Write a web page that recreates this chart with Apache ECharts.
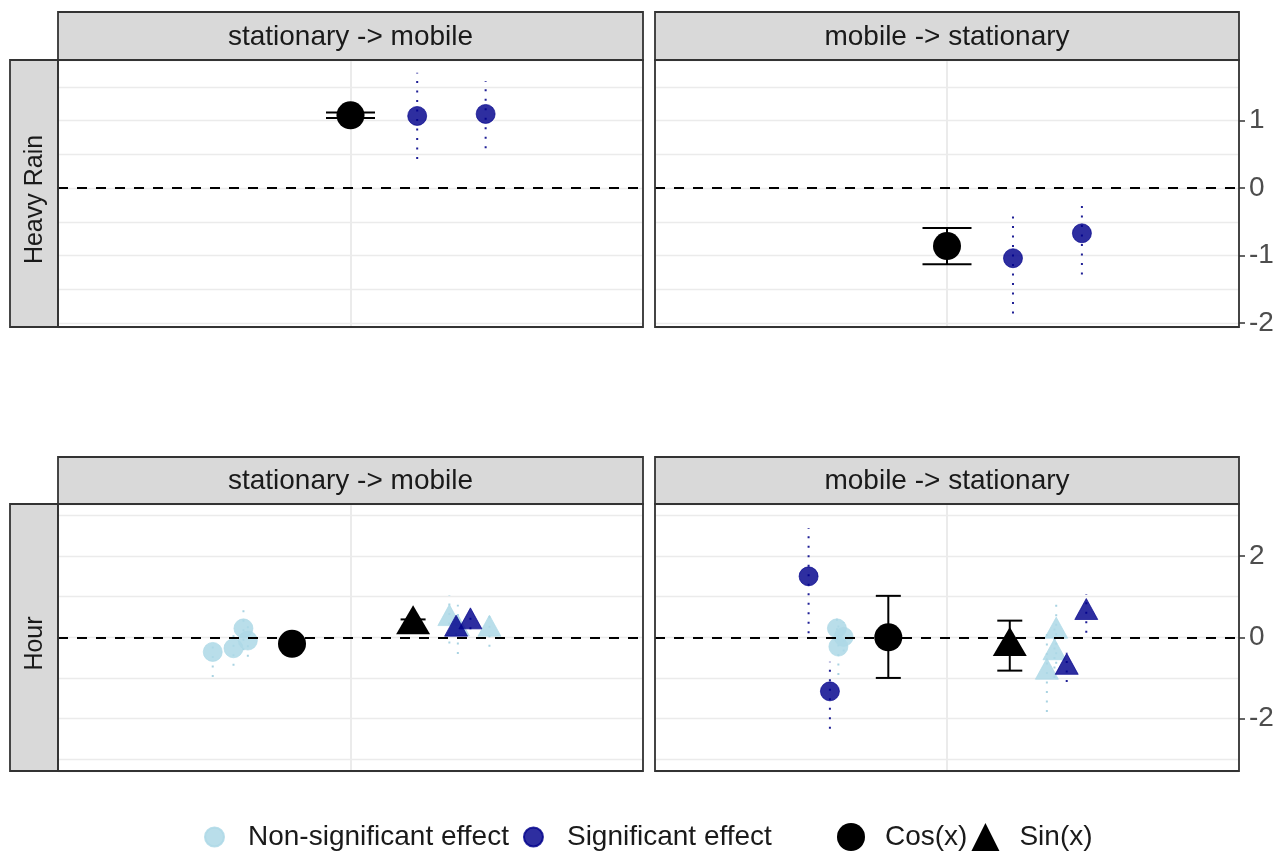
<!DOCTYPE html>
<html>
<head>
<meta charset="utf-8">
<script src="https://cdn.jsdelivr.net/npm/echarts@6/dist/echarts.min.js"></script>
<style>
  html, body { margin: 0; padding: 0; background: #ffffff; }
  #chart { width: 1282px; height: 855px; }
</style>
</head>
<body>
<div id="chart"></div>
<script>
// Facet labels
const columnLabels = ['stationary -> mobile', 'mobile -> stationary'];
const rowLabels = ['Heavy Rain', 'Hour'];

// Labelled ticks on the right-hand axis of each row
const rainTicks = [-2, -1, 0, 1];
const hourTicks = [-2, 0, 2];

// Rows: [dodge position, estimate, lower CI, upper CI, shape]
const rainToMobileOverall = [[0, 1.08, 1.04, 1.12, 'circle']];
const rainToMobileNonSig = [];
const rainToMobileSig = [
  [0.228, 1.07, 0.43, 1.71, 'circle'],
  [0.462, 1.10, 0.59, 1.59, 'circle']
];

const rainToStationaryOverall = [[0, -0.86, -1.13, -0.59, 'circle']];
const rainToStationaryNonSig = [];
const rainToStationarySig = [
  [0.226, -1.04, -1.86, -0.33, 'circle'],
  [0.462, -0.67, -1.28, -0.16, 'circle']
];

const hourToMobileOverall = [
  [-0.200, -0.16, -0.25, -0.07, 'circle'],
  [0.214, 0.31, 0.18, 0.44, 'triangle']
];
const hourToMobileNonSig = [
  [-0.471, -0.36, -0.98, 0.18, 'circle'],
  [-0.400, -0.27, -0.70, 0.16, 'circle'],
  [-0.366, 0.22, -0.32, 0.76, 'circle'],
  [-0.351, -0.08, -0.48, 0.32, 'circle'],
  [0.338, 0.46, -0.15, 1.03, 'triangle'],
  [0.367, 0.21, -0.41, 0.80, 'triangle'],
  [0.475, 0.20, -0.23, 0.68, 'triangle']
];
const hourToMobileSig = [
  [0.361, 0.20, 0.05, 0.36, 'triangle'],
  [0.410, 0.38, 0.20, 0.56, 'triangle']
];

const hourToStationaryOverall = [
  [-0.201, 0.00, -1.00, 1.02, 'circle'],
  [0.215, -0.22, -0.82, 0.41, 'triangle']
];
const hourToStationaryNonSig = [
  [-0.377, 0.22, -0.06, 0.50, 'circle'],
  [-0.354, 0.01, -0.35, 0.37, 'circle'],
  [-0.372, -0.23, -0.93, 0.47, 'circle'],
  [0.374, 0.15, -0.65, 0.95, 'triangle'],
  [0.368, -0.38, -1.00, 0.25, 'triangle'],
  [0.342, -0.86, -1.84, 0.12, 'triangle']
];
const hourToStationarySig = [
  [-0.474, 1.50, 0.10, 2.69, 'circle'],
  [-0.401, -1.33, -2.25, -0.60, 'circle'],
  [0.410, -0.74, -1.10, -0.38, 'triangle'],
  [0.477, 0.61, 0.11, 1.06, 'triangle']
];

// Visible y range of each row
const rainRange = [-2.06, 1.90];
const hourRange = [-3.29, 3.28];

// ---------------------------------------------------------------------------
const FONT = '"Liberation Sans", Arial, sans-serif';
const FONT_SIZE = 28;
const ROW_FONT_SIZE = 25;
const NONSIG = 'rgba(173,216,230,0.85)';
const NONSIG_LINE = '#a9d3e2';
const SIG = 'rgba(0,0,139,0.82)';
const SIG_LINE = '#1f1f96';
const GRIDLINE = '#EBEBEB';
const BORDER = '#333333';

const grids = [
  { left: 58, top: 60, width: 585, height: 267 },
  { left: 655, top: 60, width: 584, height: 267 },
  { left: 58, top: 504, width: 585, height: 267 },
  { left: 655, top: 504, width: 584, height: 267 }
].map(g => Object.assign(g, { show: true, backgroundColor: '#ffffff', borderWidth: 0 }));

const xAxes = grids.map((g, i) => ({
  gridIndex: i, type: 'value', min: -1, max: 1, interval: 1,
  axisLine: { show: false }, axisTick: { show: false }, axisLabel: { show: false },
  splitLine: { show: true, lineStyle: { color: GRIDLINE, width: 2 } }
}));

function lineAxis(gridIndex, range, splitNumber) {
  return {
    gridIndex, type: 'value', min: range[0], max: range[1], splitNumber,
    axisLine: { show: false }, axisTick: { show: false }, axisLabel: { show: false },
    splitLine: { show: true, lineStyle: { color: GRIDLINE, width: 1.3 } }
  };
}
function labelAxis(gridIndex, range, ticks) {
  return {
    gridIndex, type: 'value', position: 'right', min: range[0], max: range[1],
    axisLine: { show: false },
    axisTick: { show: true, customValues: ticks, length: 6, lineStyle: { color: BORDER, width: 1.5 } },
    axisLabel: { show: true, customValues: ticks, color: '#4D4D4D', fontSize: FONT_SIZE, fontFamily: FONT, margin: 10 },
    splitLine: { show: false }
  };
}

const yAxes = [
  lineAxis(0, rainRange, 8),
  lineAxis(1, rainRange, 8),
  labelAxis(1, rainRange, rainTicks),
  lineAxis(2, hourRange, 7),
  lineAxis(3, hourRange, 7),
  labelAxis(3, hourRange, hourTicks)
];
const lineAxisOfGrid = [0, 1, 3, 4];

// marker geometry per shape
function pointItem(row, big) {
  const tri = row[4] === 'triangle';
  const size = big ? (tri ? [34, 29] : 28) : (tri ? [23, 21] : 19);
  const h = Array.isArray(size) ? size[1] : size;
  return {
    value: [row[0], row[1]],
    symbol: row[4],
    symbolSize: size,
    // triangles are anchored at their centroid
    symbolOffset: tri ? [0, -h / 6] : [0, 0]
  };
}

function ciRenderer(color, dotted, capHalf) {
  return function (params, api) {
    const x = api.value(0);
    const p1 = api.coord([x, api.value(2)]);
    const p2 = api.coord([x, api.value(3)]);
    const style = { stroke: color, lineWidth: 2, fill: null, lineDash: dotted ? [2, 7.5] : null };
    const children = [{ type: 'line', shape: { x1: p1[0], y1: p1[1], x2: p2[0], y2: p2[1] }, style }];
    if (capHalf) {
      [p1, p2].forEach(p => children.push({
        type: 'line', shape: { x1: p[0] - capHalf, y1: p[1], x2: p[0] + capHalf, y2: p[1] }, style
      }));
    }
    return { type: 'group', children };
  };
}

const series = [];
function addPanel(gridIndex, overall, nonSig, sig, capHalf, overallName) {
  const xi = gridIndex, yi = lineAxisOfGrid[gridIndex];
  const ciData = rows => rows.map(r => [r[0], r[1], r[2], r[3]]);

  series.push({
    name: 'Non-significant effect', type: 'scatter', xAxisIndex: xi, yAxisIndex: yi,
    itemStyle: { color: NONSIG, borderColor: NONSIG, borderWidth: 0.8, opacity: 1 },
    data: nonSig.map(r => pointItem(r, false))
  });
  series.push({
    name: 'nonsig-ci', type: 'custom', xAxisIndex: xi, yAxisIndex: yi,
    renderItem: ciRenderer(NONSIG_LINE, true, 0), encode: { x: 0, y: 1 },
    data: ciData(nonSig)
  });
  series.push({
    name: 'Significant effect', type: 'scatter', xAxisIndex: xi, yAxisIndex: yi,
    itemStyle: { color: SIG, borderColor: SIG, borderWidth: 0.8, opacity: 1 },
    data: sig.map(r => pointItem(r, false))
  });
  series.push({
    name: 'sig-ci', type: 'custom', xAxisIndex: xi, yAxisIndex: yi,
    renderItem: ciRenderer(SIG_LINE, true, 0), encode: { x: 0, y: 1 },
    data: ciData(sig),
    markLine: {
      silent: true, symbol: ['none', 'none'], label: { show: false },
      lineStyle: { color: '#000000', width: 2, type: [10, 9] },
      emphasis: { disabled: true },
      data: [{ yAxis: 0 }]
    }
  });
  const circles = overall.filter(r => r[4] === 'circle');
  const triangles = overall.filter(r => r[4] === 'triangle');
  series.push({
    name: overallName, type: 'scatter', xAxisIndex: xi, yAxisIndex: yi,
    itemStyle: { color: '#000000', opacity: 1 }, data: circles.map(r => pointItem(r, true))
  });
  series.push({
    name: 'Sin(x)', type: 'scatter', xAxisIndex: xi, yAxisIndex: yi,
    itemStyle: { color: '#000000', opacity: 1 }, data: triangles.map(r => pointItem(r, true))
  });
  series.push({
    name: 'overall-ci', type: 'custom', xAxisIndex: xi, yAxisIndex: yi,
    renderItem: ciRenderer('#000000', false, capHalf), encode: { x: 0, y: 1 },
    data: ciData(overall)
  });
}

addPanel(0, rainToMobileOverall, rainToMobileNonSig, rainToMobileSig, 24.5, 'Heavy Rain');
addPanel(1, rainToStationaryOverall, rainToStationaryNonSig, rainToStationarySig, 24.5, 'Heavy Rain');
addPanel(2, hourToMobileOverall, hourToMobileNonSig, hourToMobileSig, 12.5, 'Cos(x)');
addPanel(3, hourToStationaryOverall, hourToStationaryNonSig, hourToStationarySig, 12.5, 'Cos(x)');

// Facet strips and panel frames
const STRIP = { fill: '#D9D9D9', stroke: BORDER, lineWidth: 1.8 };
const FRAME = { fill: null, stroke: BORDER, lineWidth: 1.8 };
const stripText = { fill: '#1A1A1A', fontSize: FONT_SIZE, fontFamily: FONT, align: 'center', verticalAlign: 'middle' };
const graphics = [];
grids.forEach(g => graphics.push({
  type: 'rect', z: 20, silent: true,
  shape: { x: g.left, y: g.top, width: g.width, height: g.height }, style: FRAME
}));
[[12, 48], [457, 47]].forEach(([top, h]) => {
  [[grids[0].left, grids[0].width], [grids[1].left, grids[1].width]].forEach(([left, w], c) => {
    graphics.push({ type: 'rect', z: 10, shape: { x: left, y: top, width: w, height: h }, style: STRIP });
    graphics.push({ type: 'text', z: 11, x: left + w / 2, y: top + h / 2 + 1,
      style: Object.assign({ text: columnLabels[c] }, stripText) });
  });
});
[grids[0], grids[2]].forEach((g, r) => {
  graphics.push({ type: 'rect', z: 10, shape: { x: 10, y: g.top, width: 48, height: g.height }, style: STRIP });
  graphics.push({ type: 'text', z: 11, x: 35, y: g.top + g.height / 2 + 6, rotation: Math.PI / 2,
    style: Object.assign({ text: rowLabels[r] }, stripText, { fontSize: ROW_FONT_SIZE }) });
});

const option = {
  animation: false,
  backgroundColor: '#ffffff',
  grid: grids,
  xAxis: xAxes,
  yAxis: yAxes,
  legend: [
    {
      left: 199, top: 818, itemWidth: 19, itemHeight: 19, itemGap: 14,
      selectedMode: false,
      textStyle: { color: '#1A1A1A', fontSize: FONT_SIZE, fontFamily: FONT, padding: [0, 0, 0, 19] },
      data: [{ name: 'Non-significant effect', icon: 'circle' }, { name: 'Significant effect', icon: 'circle' }]
    },
    {
      left: 832, top: 818, itemWidth: 28, itemHeight: 28, itemGap: 4,
      selectedMode: false,
      textStyle: { color: '#1A1A1A', fontSize: FONT_SIZE, fontFamily: FONT, padding: [0, 0, 0, 15] },
      data: [{ name: 'Cos(x)', icon: 'circle' }, { name: 'Sin(x)', icon: 'triangle' }]
    }
  ],
  graphic: graphics,
  series
};

const chart = echarts.init(document.getElementById('chart'), null, { renderer: 'canvas' });
chart.setOption(option);
</script>
</body>
</html>
